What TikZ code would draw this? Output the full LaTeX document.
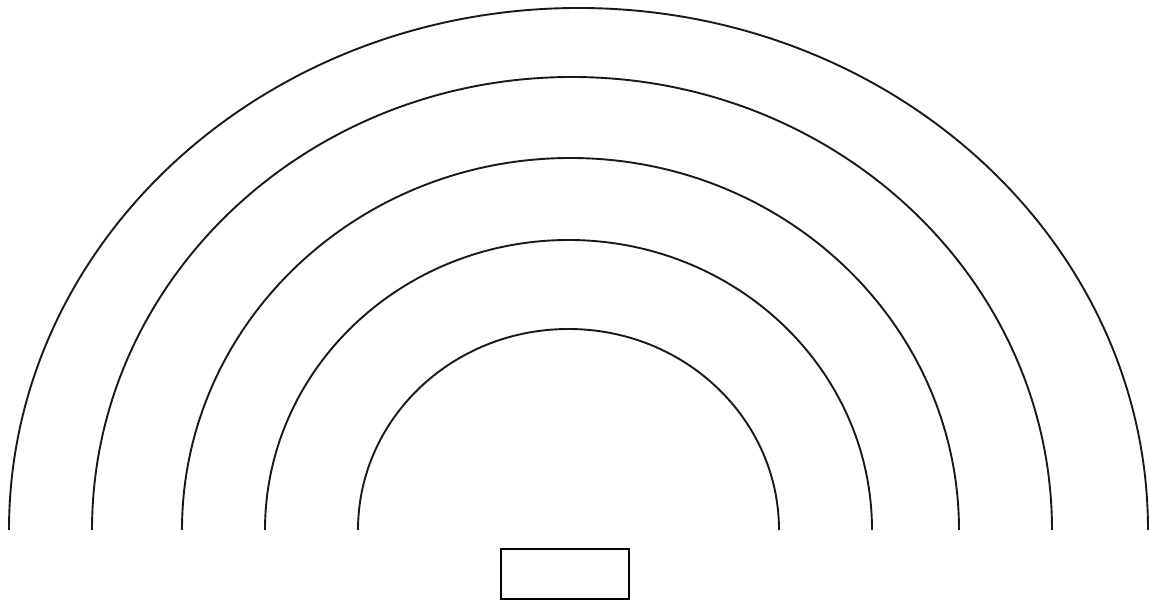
\documentclass[tikz,border=0pt]{standalone}
\begin{document}
\begin{tikzpicture}[x=1pt,y=1pt,
  wave/.style={draw=black!90,line width=1.9pt},
  box/.style={draw=black,line width=2.2pt,minimum width=128pt,minimum height=50pt,inner sep=0pt}]
\useasboundingbox (0,0) rectangle (1149,601);
\draw[wave] (9,71) arc[start angle=180,end angle=0,x radius=569.5,y radius=522];
\draw[wave] (92,71) arc[start angle=180,end angle=0,x radius=480,y radius=453];
\draw[wave] (182,71) arc[start angle=180,end angle=0,x radius=388.5,y radius=372];
\draw[wave] (265,71) arc[start angle=180,end angle=0,x radius=303.5,y radius=290];
\draw[wave] (358,71) arc[start angle=180,end angle=0,x radius=210.5,y radius=201];
\node[box] (source) at (565,27) {};
\end{tikzpicture}
\end{document}
